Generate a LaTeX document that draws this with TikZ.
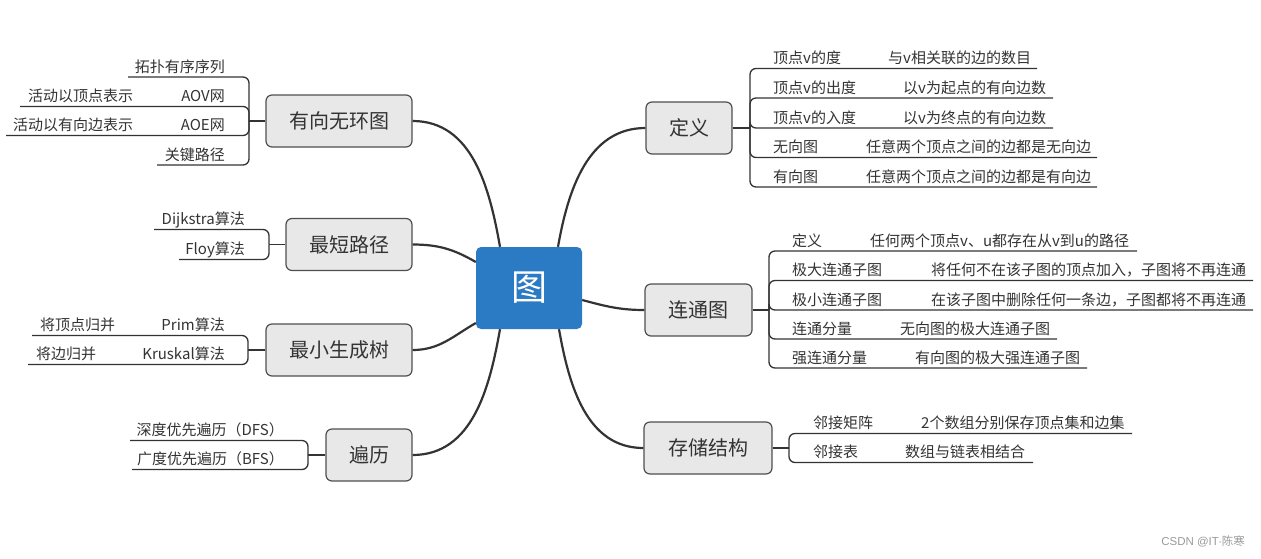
\documentclass[tikz,border=0pt]{standalone}
\usepackage{fontspec}
\newfontfamily\cjk{Noto Sans CJK SC}
\newfontfamily\marksans{Liberation Sans}
\definecolor{rootblue}{HTML}{2B7BC4}
\definecolor{topicfill}{HTML}{E8E8E8}
\definecolor{topicline}{HTML}{4F4F4F}
\definecolor{inkcolor}{HTML}{333333}
\definecolor{markcolor}{HTML}{9A9A9A}

\begin{document}
\begin{tikzpicture}[x=1pt, y=1pt,
    every node/.style={font=\cjk, text=inkcolor},
    root/.style={fill=rootblue, rounded corners=5pt, minimum width=106pt, minimum height=82pt,
        inner sep=0pt, font=\cjk\fontsize{36}{40}\selectfont, text=white},
    topic/.style={draw=topicline, fill=topicfill, line width=1.2pt, rounded corners=6pt,
        minimum height=52pt, inner sep=0pt, font=\cjk\fontsize{20}{24}\selectfont},
    leaf/.style={font=\cjk\fontsize{15}{18}\selectfont, inner sep=0pt},
    branch/.style={draw=inkcolor, line width=2.2pt},
    twig/.style={draw=inkcolor, line width=1.3pt, rounded corners=6pt},
]
\useasboundingbox (0,0) rectangle (1261,-558);

\node[root] (root) at (529,-288) {图};
\node[topic, minimum width=146pt] (dag)   at (339,-121)   {有向无环图};
\node[topic, minimum width=126pt] (sp)    at (349,-244.5) {最短路径};
\node[topic, minimum width=146pt] (mst)   at (339,-350)   {最小生成树};
\node[topic, minimum width=86pt]  (trav)  at (369,-455)   {遍历};
\node[topic, minimum width=86pt]  (def)   at (689,-128)   {定义};
\node[topic, minimum width=107pt] (conn)  at (698.5,-310) {连通图};
\node[topic, minimum width=128pt] (store) at (708,-448)   {存储结构};

\draw[branch] (dag.east)  to[out=0, in=100] ([xshift=-29pt]root.north);
\draw[branch] (sp.east)   to[out=0, in=150] ([yshift=26pt]root.west);
\draw[branch] (mst.east)  to[out=0, in=210] ([yshift=-35pt]root.west);
\draw[branch] (trav.east) to[out=0, in=260] ([xshift=-29pt]root.south);
\draw[branch] ([xshift=29pt]root.north) to[out=80, in=180] (def.west);
\draw[branch] ([yshift=-12pt]root.east) to[out=-15, in=180] (conn.west);
\draw[branch] ([xshift=30pt]root.south) to[out=-80, in=180] (store.west);

% left: 有向无环图
\coordinate (dagj) at (249,-121);
\draw[twig] (dag.west) -- (dagj);
\foreach \y/\a/\e [count=\i] in {77/拓扑有序序列/128, 106.5/AOV网/20, 135.5/AOE网/6, 165/关键路径/157}{
    \node[leaf, anchor=base east] (dag\i) at (225, -\y+5) {\a};
    \coordinate (dage\i) at (\e, -\y);
    \draw[twig] (dagj) |- (dage\i);
}
\node[leaf, anchor=base west] (dagn2) at (28, -101.5) {活动以顶点表示};
\node[leaf, anchor=base west] (dagn3) at (13, -130.5) {活动以有向边表示};

% left: 最短路径
\coordinate (spj) at (269,-244.5);
\draw[twig] (sp.west) -- (spj);
\foreach \y/\a/\e [count=\i] in {229.5/Dijkstra算法/154, 259.5/Floy算法/179}{
    \node[leaf, anchor=base east] (sp\i) at (245, -\y+5) {\a};
    \coordinate (spe\i) at (\e, -\y);
    \draw[twig] (spj) |- (spe\i);
}

% left: 最小生成树
\coordinate (mstj) at (248,-350);
\draw[twig] (mst.west) -- (mstj);
\foreach \y/\a/\b/\bx/\e [count=\i] in {335.5/Prim算法/将顶点归并/40/32, 364.5/Kruskal算法/将边归并/36/28}{
    \node[leaf, anchor=base east] (mst\i) at (225, -\y+5) {\a};
    \node[leaf, anchor=base west] (mstn\i) at (\bx, -\y+5) {\b};
    \coordinate (mste\i) at (\e, -\y);
    \draw[twig] (mstj) |- (mste\i);
}

% left: 遍历
\coordinate (travj) at (308,-455);
\draw[twig] (trav.west) -- (travj);
\foreach \y/\a/\e [count=\i] in {440.5/深度优先遍历（DFS）/130, 469.5/广度优先遍历（BFS）/132}{
    \node[leaf, anchor=base east] (trav\i) at (284, -\y+5) {\a};
    \coordinate (trave\i) at (\e, -\y);
    \draw[twig] (travj) |- (trave\i);
}

% right: 定义
\coordinate (defj) at (750,-128);
\draw[twig] (def.east) -- (defj);
\foreach \y/\a/\b/\bx/\e [count=\i] in {68.5/顶点v的度/与v相关联的边的数目/888/1037,
        98/顶点v的出度/以v为起点的有向边数/903/1053, 128/顶点v的入度/以v为终点的有向边数/903/1053,
        157.5/无向图/任意两个顶点之间的边都是无向边/866/1097, 187/有向图/任意两个顶点之间的边都是有向边/866/1097}{
    \node[leaf, anchor=base west] (def\i) at (773, -\y+5) {\a};
    \node[leaf, anchor=base west] (defn\i) at (\bx, -\y+5) {\b};
    \coordinate (defe\i) at (\e, -\y);
    \draw[twig] (defj) |- (defe\i);
}

% right: 连通图
\coordinate (connj) at (769,-310);
\draw[twig] (conn.east) -- (connj);
\foreach \y/\a/\b/\bx/\e [count=\i] in {251/定义/任何两个顶点v、u都存在从v到u的路径/870/1137,
        280.5/极大连通子图/将任何不在该子图的顶点加入，子图将不再连通/931/1253,
        310/极小连通子图/在该子图中删除任何一条边，子图都将不再连通/931/1253,
        339/连通分量/无向图的极大连通子图/900/1057, 368/强连通分量/有向图的极大强连通子图/915/1087}{
    \node[leaf, anchor=base west] (conn\i) at (792, -\y+5) {\a};
    \node[leaf, anchor=base west] (connn\i) at (\bx, -\y+5) {\b};
    \coordinate (conne\i) at (\e, -\y);
    \draw[twig] (connj) |- (conne\i);
}

% right: 存储结构
\coordinate (storej) at (789,-448);
\draw[twig] (store.east) -- (storej);
\foreach \y/\a/\b/\bx/\e [count=\i] in {433.5/邻接矩阵/2个数组分别保存顶点集和边集/921/1132,
        462.5/邻接表/数组与链表相结合/905/1033}{
    \node[leaf, anchor=base west] (store\i) at (813, -\y+5) {\a};
    \node[leaf, anchor=base west] (storen\i) at (\bx, -\y+5) {\b};
    \coordinate (storee\i) at (\e, -\y);
    \draw[twig] (storej) |- (storee\i);
}

\node[font=\marksans\fontsize{11.5}{13}\selectfont, text=markcolor, anchor=base east, inner sep=0pt]
    (mark) at (1245,-545) {CSDN @IT\kern-0.5pt·\kern-0.5pt{\cjk 陈寒}};

\end{tikzpicture}
\end{document}
